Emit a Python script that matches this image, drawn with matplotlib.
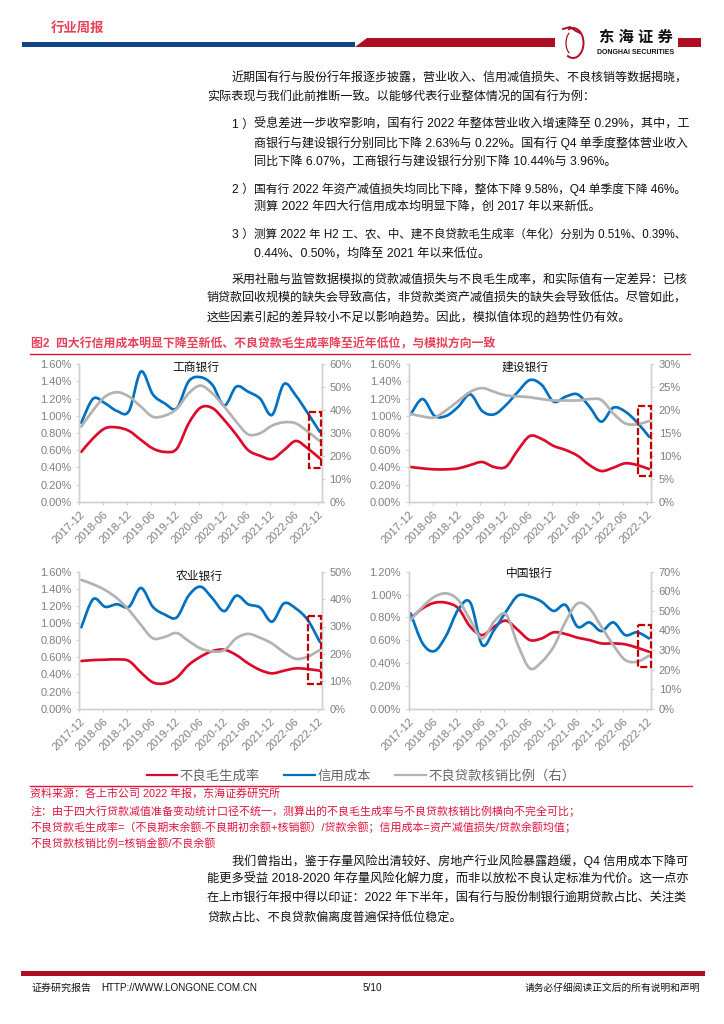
#!/usr/bin/env python3
"""Report page: four bank panels of credit cost / NPL formation / write-off ratio."""

import matplotlib
matplotlib.use("Agg")
import matplotlib.pyplot as plt
from matplotlib.patches import PathPatch, Polygon, Rectangle, Arc
from matplotlib.path import Path
from matplotlib.lines import Line2D
import matplotlib.ticker as ticker

plt.rcParams["font.family"] = ["Liberation Sans", "Noto Sans CJK SC", "DejaVu Sans"]

# ── data (quarterly) ──────────────────────────────────────────────────────────
months = list(range(0, 61, 3))      # months since 2017-12
tick_labels = ["2017-12", "2018-06", "2018-12", "2019-06", "2019-12", "2020-06",
               "2020-12", "2021-06", "2021-12", "2022-06", "2022-12"]

icbc_npl = [0.58, 0.74, 0.855, 0.865, 0.825, 0.72, 0.62, 0.58, 0.615, 0.91, 1.095,
            1.09, 0.95, 0.78, 0.60, 0.535, 0.497, 0.60, 0.707, 0.62, 0.505]
icbc_cost = [0.92, 1.20, 1.145, 1.056, 1.056, 1.515, 1.25, 1.145, 1.087, 1.40, 1.45,
             1.36, 1.12, 1.34, 1.28, 1.20, 1.01, 1.37, 1.235, 1.03, 0.815]
icbc_wo = [32.8, 40.0, 45.9, 47.8, 45.9, 41.5, 37.1, 37.6, 40.5, 47.3, 50.7,
           47.3, 41.5, 34.9, 29.4, 29.9, 33.2, 34.7, 34.2, 30.6, 26.5]

ccb_npl = [0.404, 0.388, 0.377, 0.377, 0.388, 0.427, 0.462, 0.404, 0.408, 0.602, 0.765,
           0.73, 0.649, 0.602, 0.536, 0.427, 0.357, 0.396, 0.447, 0.427, 0.38]
ccb_cost = [1.017, 1.196, 1.0, 1.0, 1.107, 1.25, 1.056, 1.017, 1.126, 1.28, 1.417,
            1.36, 1.165, 1.223, 1.25, 1.107, 0.932, 1.095, 1.05, 0.924, 0.757]
ccb_wo = [19.2, 18.6, 18.4, 20.0, 22.0, 24.0, 24.8, 24.0, 23.2, 23.0, 22.8,
          22.4, 22.1, 22.1, 22.1, 22.4, 22.2, 19.3, 17.1, 16.9, 17.6]

abc_npl = [0.557, 0.568, 0.572, 0.576, 0.557, 0.424, 0.308, 0.296, 0.362, 0.51, 0.607,
           0.673, 0.689, 0.627, 0.529, 0.452, 0.413, 0.444, 0.471, 0.463, 0.444]
abc_cost = [0.95, 1.28, 1.19, 1.22, 1.19, 1.41, 1.19, 1.10, 1.066, 1.32, 1.425,
            1.29, 1.14, 1.32, 1.22, 1.18, 1.016, 1.23, 1.17, 1.035, 0.782]
abc_wo = [47.0, 45.4, 43.3, 40.3, 36.0, 30.6, 25.7, 26.2, 27.6, 24.7, 22.0,
          20.9, 21.4, 25.7, 27.3, 25.9, 23.8, 20.6, 18.2, 19.0, 21.4]

boc_npl = [0.791, 0.879, 0.928, 0.928, 0.879, 0.718, 0.645, 0.718, 0.771, 0.689, 0.601,
           0.616, 0.669, 0.654, 0.622, 0.601, 0.572, 0.572, 0.564, 0.534, 0.499]
boc_cost = [0.835, 0.572, 0.505, 0.645, 0.87, 0.93, 0.558, 0.689, 0.85, 0.99, 0.981,
            0.937, 0.856, 0.908, 0.718, 0.756, 0.68, 0.756, 0.645, 0.669, 0.616]
boc_wo = [45.3, 52.1, 57.2, 58.9, 55.5, 45.3, 35.9, 44.5, 48.2, 32.5, 20.6,
          24.0, 31.7, 44.5, 53.8, 51.3, 41.9, 32.5, 24.9, 24.0, 27.1]

# ── colours ───────────────────────────────────────────────────────────────────
RED = "#DC0A2D"
BLUE = "#0070C0"
GRAY = "#B2B2B2"
BOX = "#C00000"
AXIS = "#D0D0D0"
TICK_TXT = "#7F7F7F"
NOTE = "#E0143C"
HEAD = "#E8405A"
DARK_RED = "#AE0E24"
NAVY = "#0F4485"

W, H = 724, 1024
RIGHT = 690     # right edge of the justified body text

# ── page text (x, y in pixels, justified or not) ──────────────────────────────
BODY = [
    (232, 78, "近期国有行与股份行年报逐步披露，营业收入、信用减值损失、不良核销等数据揭晓，", True),
    (207, 97, "实际表现与我们此前推断一致。以能够代表行业整体情况的国有行为例：", False),
    (254, 124, "受息差进一步收窄影响，国有行 2022 年整体营业收入增速降至 0.29%，其中，工", True),
    (254, 143, "商银行与建设银行分别同比下降 2.63%与 0.22%。国有行 Q4 单季度整体营业收入", True),
    (254, 162, "同比下降 6.07%，工商银行与建设银行分别下降 10.44%与 3.96%。", False),
    (254, 189, "国有行 2022 年资产减值损失均同比下降，整体下降 9.58%，Q4 单季度下降 46%。", True),
    (254, 207, "测算 2022 年四大行信用成本均明显下降，创 2017 年以来新低。", False),
    (254, 234, "测算 2022 年 H2 工、农、中、建不良贷款毛生成率（年化）分别为 0.51%、0.39%、", True),
    (254, 253, "0.44%、0.50%，均降至 2021 年以来低位。", False),
    (232, 279, "采用社融与监管数据模拟的贷款减值损失与不良毛生成率，和实际值有一定差异：已核", True),
    (207, 298, "销贷款回收规模的缺失会导致高估，非贷款类资产减值损失的缺失会导致低估。尽管如此，", True),
    (207, 317, "这些因素引起的差异较小不足以影响趋势。因此，模拟值体现的趋势性仍有效。", False),
    (232, 861, "我们曾指出，鉴于存量风险出清较好、房地产行业风险暴露趋缓，Q4 信用成本下降可", True),
    (207, 879, "能更多受益 2018-2020 年存量风险化解力度，而非以放松不良认定标准为代价。这一点亦", True),
    (207, 898, "在上市银行年报中得以印证：2022 年下半年，国有行与股份制银行逾期贷款占比、关注类", True),
    (207, 917, "贷款占比、不良贷款偏离度普遍保持低位稳定。", False),
]
LIST_MARKS = [(124, "1 ）"), (189, "2 ）"), (234, "3 ）")]
NOTES = [
    (793, "资料来源：各上市公司 2022 年报，东海证券研究所"),
    (811, "注：由于四大行贷款减值准备变动统计口径不统一，测算出的不良毛生成率与不良贷款核销比例横向不完全可比；"),
    (827, "不良贷款毛生成率=（不良期末余额-不良期初余额+核销额）/贷款余额；信用成本=资产减值损失/贷款余额均值；"),
    (843, "不良贷款核销比例=核销金额/不良余额"),
]
FIG_TITLE = "图2  四大行信用成本明显下降至新低、不良贷款毛生成率降至近年低位，与模拟方向一致"


def smooth_line(ax, x, y, color):
    """Spreadsheet-style smoothed line through the points, as one bezier path."""
    n = len(x)
    verts = [(x[0], y[0])]
    codes = [Path.MOVETO]
    for i in range(n - 1):
        x0, y0 = x[max(i - 1, 0)], y[max(i - 1, 0)]
        x3, y3 = x[min(i + 2, n - 1)], y[min(i + 2, n - 1)]
        verts.append((x[i] + (x[i + 1] - x0) / 6, y[i] + (y[i + 1] - y0) / 6))
        verts.append((x[i + 1] - (x3 - x[i]) / 6, y[i + 1] - (y3 - y[i]) / 6))
        verts.append((x[i + 1], y[i + 1]))
        codes += [Path.CURVE4] * 3
    ax.add_patch(PathPatch(Path(verts, codes), fill=False, edgecolor=color,
                           linewidth=1.95, capstyle="round", joinstyle="round"))


def panel(fig, box, title, title_pos, npl, cost, wo, ymax, ystep, rmax, rstep):
    left, top, right, bottom = box
    ax = fig.add_axes([left / W, 1 - bottom / H, (right - left) / W, (bottom - top) / H])
    ax2 = ax.twinx()
    ax.set_xlim(-0.5, 60.5)
    ax.set_ylim(0, ymax)
    ax2.set_ylim(0, rmax)
    ax.set_xticks([-0.5 + 6 * i for i in range(len(tick_labels))])
    ax.set_xticklabels(tick_labels, rotation=45, ha="right", va="top",
                       rotation_mode="anchor", fontsize=8, color=TICK_TXT)
    ax.yaxis.set_major_locator(ticker.MultipleLocator(ystep))
    ax.yaxis.set_major_formatter(ticker.FormatStrFormatter("%.2f%%"))
    ax2.yaxis.set_major_locator(ticker.MultipleLocator(rstep))
    ax2.yaxis.set_major_formatter(ticker.FormatStrFormatter("%d%%"))
    for a in (ax, ax2):
        a.patch.set_alpha(0)
        a.tick_params(axis="both", length=2.5, width=0.8, color=AXIS, labelsize=8,
                      labelcolor=TICK_TXT, pad=3)
        for side in a.spines:
            a.spines[side].set_color(AXIS)
            a.spines[side].set_linewidth(1.0)
        a.spines["top"].set_visible(False)

    smooth_line(ax, months, npl, RED)
    smooth_line(ax, months, cost, BLUE)
    smooth_line(ax2, months, wo, GRAY)
    ax.text(title_pos[0], title_pos[1], title, transform=ax.transAxes, ha="center",
            va="center", fontsize=8.5, color="#111111")


def body_line(fig, page, x, y, line, justify):
    # baseline sits about 4 px under the line's centre
    t = page.text(x, y + 4, line, fontsize=8.7, color="#111111", va="baseline")
    if justify:
        # the source page is justified, so nudge the size until the line fills the measure
        width = t.get_window_extent(fig.canvas.get_renderer()).width
        t.set_fontsize(8.7 * (RIGHT - x) / width)


def main():
    fig = plt.figure(figsize=(W / 100, H / 100), dpi=100)

    panel(fig, (79.3, 364.3, 321.7, 501.7), "工商银行", (0.481, 0.975),
          icbc_npl, icbc_cost, icbc_wo, 1.6, 0.2, 60, 10)
    panel(fig, (408.7, 364.3, 651, 501.7), "建设银行", (0.48, 0.975),
          ccb_npl, ccb_cost, ccb_wo, 1.6, 0.2, 30, 5)
    panel(fig, (79.3, 571.7, 321.7, 708.7), "农业银行", (0.495, 0.963),
          abc_npl, abc_cost, abc_wo, 1.6, 0.2, 50, 10)
    panel(fig, (408.7, 571.7, 651, 708.7), "中国银行", (0.50, 0.983),
          boc_npl, boc_cost, boc_wo, 1.2, 0.2, 70, 10)

    # page furniture lives on one pixel-scaled overlay
    page = fig.add_axes([0, 0, 1, 1], zorder=10)
    page.set_xlim(0, W)
    page.set_ylim(H, 0)
    page.axis("off")

    for x0, y0, x1, y1 in [(309.3, 412.3, 321, 467.7), (638, 406, 650.7, 476.3),
                           (308.3, 616.3, 321, 684.3), (638, 625, 650.7, 666.7)]:
        page.add_patch(Rectangle((x0, y0), x1 - x0, y1 - y0, fill=False, edgecolor=BOX,
                                 linewidth=1.6, linestyle=(0, (3.2, 1.2))))

    # header
    page.add_patch(Rectangle((22, 41.7), 333, 5.3, color=NAVY, lw=0))
    page.add_patch(Polygon([(355, 47), (367, 38), (555, 38), (555, 47)], color=DARK_RED, lw=0))
    page.add_patch(Rectangle((678, 38), 23, 9, color=DARK_RED, lw=0))
    page.text(51, 28, "行业周报", fontsize=9.6, fontweight="bold", color=HEAD, va="center")
    page.add_patch(Arc((573, 43), 21, 30, theta1=-110, theta2=115, color=DARK_RED, lw=1.4))
    page.add_patch(Arc((573, 43), 14, 24, theta1=110, theta2=250, color=DARK_RED, lw=0.9))
    page.add_line(Line2D([563, 570, 576, 580], [29, 27, 31, 33], color=DARK_RED, lw=1.4))
    page.text(635.5, 38, "东 海 证 券", fontsize=11, fontweight="bold", color="#111111",
              ha="center", va="center")
    page.text(635.5, 52, "DONGHAI SECURITIES", fontsize=5.0, fontweight="bold", color="#111111",
              ha="center", va="center")

    # body text
    for x, y, line, justify in BODY:
        body_line(fig, page, x, y, line, justify)
    for y, mark in LIST_MARKS:
        page.text(232, y + 4, mark, fontsize=8.7, color="#111111", va="baseline")

    # chart heading, notes and rules
    page.text(31, 344.5, FIG_TITLE, fontsize=8.6, fontweight="bold", color=HEAD, va="center")
    page.add_line(Line2D([30, 690], [354.3, 354.3], color=NOTE, lw=1.0))
    page.add_line(Line2D([30, 692], [786, 786], color=NOTE, lw=1.0))
    for y, line in NOTES:
        page.text(30.5, y, line, fontsize=7.9, color=NOTE, va="center")

    # legend
    handles = [Line2D([], [], color=c, lw=1.6) for c in (RED, BLUE, GRAY)]
    fig.legend(handles, ["不良毛生成率", "信用成本", "不良贷款核销比例（右）"],
               loc="center", bbox_to_anchor=(361 / W, 1 - 776.5 / H), ncol=3, frameon=False,
               fontsize=9.6, labelcolor="#666666", handlelength=2.3, handletextpad=0.2,
               columnspacing=1.8, borderpad=0)

    # footer
    page.add_patch(Rectangle((21, 971), 684, 4.7, color=DARK_RED, lw=0))
    page.text(31.5, 988, "证券研究报告", fontsize=7.2, color="#111111", va="center")
    page.text(101, 988, "HTTP://WWW.LONGONE.COM.CN", fontsize=7.1, color="#111111", va="center")
    page.text(372, 988, "5/10", fontsize=7.2, color="#111111", va="center", ha="center")
    page.text(700, 988, "请务必仔细阅读正文后的所有说明和声明", fontsize=7.0, color="#111111",
              va="center", ha="right")

    fig.savefig("out.png", dpi=100)
    plt.close(fig)


if __name__ == "__main__":
    main()
